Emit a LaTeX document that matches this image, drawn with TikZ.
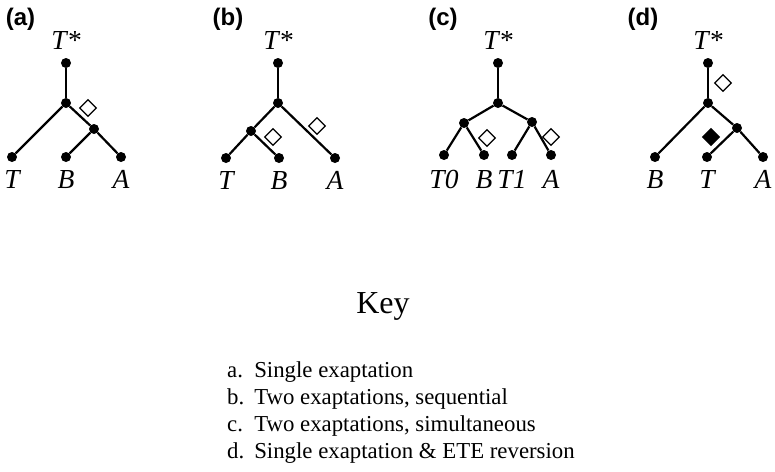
\documentclass[tikz,border=0pt]{standalone}
\usepackage{fontspec}
\setmainfont{Liberation Serif}
\newfontfamily\panelfont{Liberation Sans}
\usetikzlibrary{positioning, shapes.geometric}
\tikzset{
    tip/.style={
        circle,
        fill=black,
        inner sep=0pt,
        minimum size=10pt
    },
    branch/.style={
        line width=2.2pt,
        color=black
    },
    exapt/.style={
        diamond,
        draw=black,
        line width=1.2pt,
        fill=white,
        inner sep=0pt,
        minimum size=17pt
    },
    reversal/.style={
        exapt,
        fill=black
    },
    taxon/.style={
        font=\fontsize{27.5}{32}\selectfont\itshape,
        inner sep=0pt,
        text height=18pt,
        text depth=0pt
    },
    panel/.style={
        font=\fontsize{24}{28}\selectfont\panelfont\bfseries,
        inner sep=0pt
    },
    keytitle/.style={
        font=\fontsize{32}{38}\selectfont,
        inner sep=0pt
    },
    keyitem/.style={
        font=\fontsize{22.8}{27}\selectfont,
        inner sep=0pt,
        align=left
    }
}
\begin{document}
\begin{tikzpicture}[x=1pt, y=-1pt]
  \useasboundingbox (0,0) rectangle (775,471);

  % Panel (a)
  \node[panel] (a-lab) at (20.5,19) {(a)};
  \node[tip] (a-root) at (66,63) {};
  \node[tip] (a-n1) at (66,103) {};
  \node[tip] (a-n2) at (94,129) {};
  \node[tip] (a-t) at (12,157) {};
  \node[tip] (a-b) at (66,157) {};
  \node[tip] (a-a) at (121,157) {};
  \node[taxon, above=8pt of a-root] {T*};
  \node[taxon, below=8pt of a-t] {T};
  \node[taxon, below=8pt of a-b] {B};
  \node[taxon, below=8pt of a-a] {A};
  \draw[branch] (a-root) -- (a-n1);
  \draw[branch] (a-n1) -- (a-t);
  \draw[branch] (a-n1) -- (a-n2);
  \draw[branch] (a-n2) -- (a-b);
  \draw[branch] (a-n2) -- (a-a);
  \node[exapt] (a-x1) at (88,108) {};

  % Panel (b)
  \node[panel] (b-lab) at (228,19) {(b)};
  \node[tip] (b-root) at (278,63) {};
  \node[tip] (b-n1) at (278,103) {};
  \node[tip] (b-n2) at (251,131) {};
  \node[tip] (b-t) at (226,158) {};
  \node[tip] (b-b) at (279,158) {};
  \node[tip] (b-a) at (335,158) {};
  \node[taxon, above=8pt of b-root] {T*};
  \node[taxon, below=8pt of b-t] {T};
  \node[taxon, below=8pt of b-b] {B};
  \node[taxon, below=8pt of b-a] {A};
  \draw[branch] (b-root) -- (b-n1);
  \draw[branch] (b-n1) -- (b-n2);
  \draw[branch] (b-n1) -- (b-a);
  \draw[branch] (b-n2) -- (b-t);
  \draw[branch] (b-n2) -- (b-b);
  \node[exapt] (b-x1) at (273,137) {};
  \node[exapt] (b-x2) at (317,126) {};

  % Panel (c)
  \node[panel] (c-lab) at (443,19) {(c)};
  \node[tip] (c-root) at (498,63) {};
  \node[tip] (c-n1) at (498,103) {};
  \node[tip] (c-l) at (464,123) {};
  \node[tip] (c-r) at (532,122) {};
  \node[tip] (c-t0) at (444,155) {};
  \node[tip] (c-b) at (484,155) {};
  \node[tip] (c-t1) at (512,155) {};
  \node[tip] (c-a) at (551,155) {};
  \node[taxon, above=8pt of c-root] {T*};
  \node[taxon, below=10pt of c-t0] {T0};
  \node[taxon, below=10pt of c-b] {B};
  \node[taxon, below=10pt of c-t1] {T1};
  \node[taxon, below=10pt of c-a] {A};
  \draw[branch] (c-root) -- (c-n1);
  \draw[branch] (c-n1) -- (c-l);
  \draw[branch] (c-n1) -- (c-r);
  \draw[branch] (c-l) -- (c-t0);
  \draw[branch] (c-l) -- (c-b);
  \draw[branch] (c-r) -- (c-t1);
  \draw[branch] (c-r) -- (c-a);
  \node[exapt] (c-x1) at (487,138) {};
  \node[exapt] (c-x2) at (551,137) {};

  % Panel (d)
  \node[panel] (d-lab) at (643,19) {(d)};
  \node[tip] (d-root) at (708,63) {};
  \node[tip] (d-n1) at (708,103) {};
  \node[tip] (d-n2) at (737,128) {};
  \node[tip] (d-b) at (655,157) {};
  \node[tip] (d-t) at (707,157) {};
  \node[tip] (d-a) at (763,157) {};
  \node[taxon, above=8pt of d-root] {T*};
  \node[taxon, below=8pt of d-b] {B};
  \node[taxon, below=8pt of d-t] {T};
  \node[taxon, below=8pt of d-a] {A};
  \draw[branch] (d-root) -- (d-n1);
  \draw[branch] (d-n1) -- (d-b);
  \draw[branch] (d-n1) -- (d-n2);
  \draw[branch] (d-n2) -- (d-t);
  \draw[branch] (d-n2) -- (d-a);
  \node[exapt] (d-x1) at (723,83) {};
  \node[reversal] (d-x2) at (711,137) {};

  % Key
  \node[keytitle, anchor=base] (key) at (383,313) {Key};
  \node[keyitem, anchor=base west] (key-list) at (227,377) {%
    \begin{tabular}[t]{@{}l@{\hspace{10pt}}l@{}}
      a. & Single exaptation\\
      b. & Two exaptations, sequential\\
      c. & Two exaptations, simultaneous\\
      d. & Single exaptation \& ETE reversion
    \end{tabular}};
\end{tikzpicture}
\end{document}
